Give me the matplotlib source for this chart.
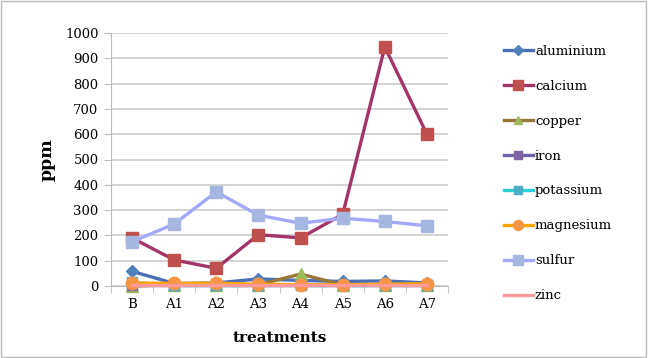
import matplotlib.pyplot as plt
from matplotlib.lines import Line2D

plt.rcParams['font.family'] = ['DejaVu Serif']

# treatments on the x axis
treatments = ["B", "A1", "A2", "A3", "A4", "A5", "A6", "A7"]

# ppm per element
aluminium = [58, 10, 12, 28, 22, 18, 20, 12]
calcium = [190, 103, 70, 203, 190, 283, 945, 600]
copper = [0, 5, 5, 5, 47, 5, 5, 5]
iron = [2, 2, 2, 2, 2, 2, 2, 2]
potassium = [15, 2, 2, 2, 2, 2, 2, 2]
magnesium = [12, 10, 11, 7, 5, 5, 7, 9]
sulfur = [175, 245, 372, 280, 248, 268, 255, 238]
zinc = [3, 3, 3, 3, 3, 3, 3, 3]

# name, values, line colour, marker, marker colour, marker size
series = [
    ("aluminium", aluminium, "#4A6FB5", "D", "#4F81BD", 6),
    ("calcium", calcium, "#A3346A", "s", "#C0504D", 9),
    ("copper", copper, "#98783A", "^", "#9BBB59", 8),
    ("iron", iron, "#6A63A8", "s", "#8064A2", 7),
    ("potassium", potassium, "#2DCFD6", "s", "#4BACC6", 7),
    ("magnesium", magnesium, "#FFA500", "o", "#F79646", 9),
    ("sulfur", sulfur, "#A3A8FA", "s", "#A5B6E0", 9),
    ("zinc", zinc, "#FF9A9A", None, "#FF9A9A", 0),
]

fig = plt.figure(figsize=(6.48, 3.58), dpi=100)
ax = fig.add_axes([111 / 648, 1 - 286 / 358, 337 / 648, 253 / 358])

x = list(range(len(treatments)))
handles = []
for name, vals, lc, mk, mc, ms in series:
    ax.plot(x, vals, color=lc, lw=2.4, marker=mk, markersize=ms,
            markerfacecolor=mc, markeredgecolor=mc, clip_on=False, zorder=3)
    handles.append(Line2D([], [], color=lc, lw=2.4, marker=mk, markersize=ms * 0.8,
                          markerfacecolor=mc, markeredgecolor=mc, label=name))

ax.set_xlim(-0.5, len(treatments) - 0.5)
ax.set_ylim(0, 1000)
ax.set_yticks(range(0, 1001, 100))
ax.set_xticks(x)
ax.set_xticklabels(treatments)
ax.set_xticks([i - 0.5 for i in range(len(treatments) + 1)], minor=True)
ax.tick_params(axis='x', which='major', length=0, labelsize=9.5, pad=9)
ax.tick_params(axis='x', which='minor', length=5, color="#BBBBBB")
ax.tick_params(axis='y', length=5, color="#BBBBBB", labelsize=9.5, pad=4)

ax.grid(axis='y', color="#CCCCCC", lw=1.2)
ax.set_axisbelow(True)
for s in ["top", "right"]:
    ax.spines[s].set_visible(False)
ax.spines["left"].set_color("#BBBBBB")
ax.spines["bottom"].set_color("#BBBBBB")

ax.set_xlabel("treatments", fontsize=11, fontweight="bold", labelpad=14)
ax.set_ylabel("ppm", fontsize=12.5, fontweight="bold", labelpad=7)

fig.legend(handles=handles, loc="upper left", bbox_to_anchor=(492 / 648, 1 - 33 / 358),
           frameon=False, fontsize=9.5, labelspacing=1.66, handlelength=2.2,
           handletextpad=0.15)

fig.patches.append(plt.Rectangle((0.002, 0.003), 0.995, 0.993, transform=fig.transFigure,
                                 fill=False, edgecolor="#BBBBBB", lw=1))

fig.savefig("out.png", dpi=100)
